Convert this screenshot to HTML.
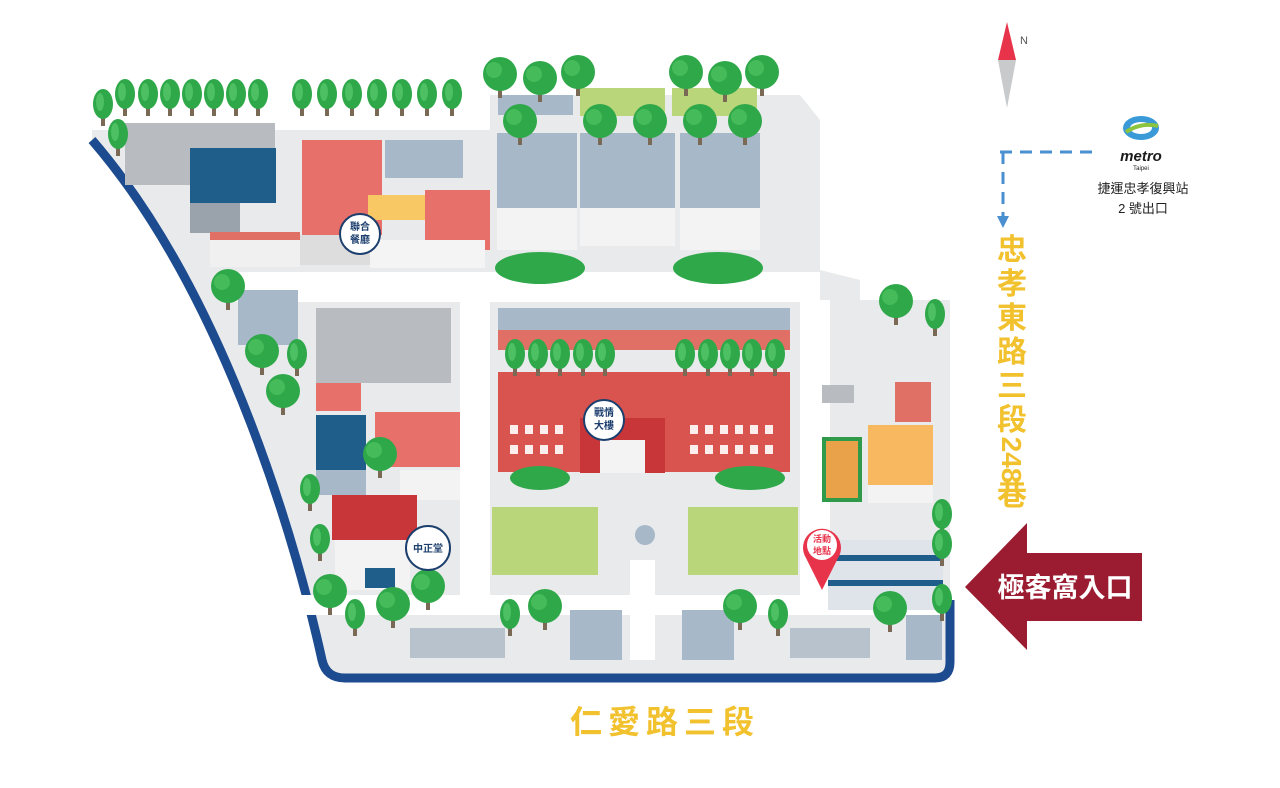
<!DOCTYPE html>
<html><head><meta charset="utf-8"><style>
html,body{margin:0;padding:0;background:#fff;width:1280px;height:788px;overflow:hidden}
svg{display:block}
text{font-family:"Liberation Sans","Noto Sans CJK TC",sans-serif}
</style></head><body>
<svg width="1280" height="788" viewBox="0 0 1280 788" xmlns="http://www.w3.org/2000/svg">
<defs>
<g id="tree"><rect x="-2" y="2" width="4" height="14" fill="#7a6a55"/><ellipse cx="0" cy="-6" rx="10" ry="15" fill="#2fa84a"/><ellipse cx="-3" cy="-8" rx="4" ry="9" fill="#4cc062"/></g>
<g id="btree"><rect x="-2" y="6" width="4" height="14" fill="#7a6a55"/><circle cx="0" cy="-4" r="17" fill="#2fa84a"/><circle cx="-6" cy="-8" r="8" fill="#46bb5a"/></g>
</defs>

<path d="M92,130 L490,130 L490,95 L800,95 L820,120 L820,270 L860,280 L860,300 L950,300 L950,675 L330,675 C300,560 230,300 92,140 Z" fill="#e9eaeb"/>
<path d="M92,140 C230,300 300,560 322,660 Q326,678 345,678 L935,678 Q950,678 950,662 L950,600" fill="none" stroke="#1d4b8f" stroke-width="9"/>
<rect x="230" y="272" width="590" height="30" fill="#fff"/>
<rect x="460" y="300" width="30" height="300" fill="#fff"/>
<rect x="800" y="300" width="30" height="300" fill="#fff"/>
<rect x="300" y="595" width="640" height="20" fill="#fff"/>
<rect x="630" y="560" width="25" height="100" fill="#fff"/>

<rect x="125" y="123" width="150" height="62" fill="#b8bcc0"/>
<rect x="190" y="148" width="86" height="55" fill="#1f5d8a"/>
<rect x="190" y="203" width="50" height="30" fill="#9aa3ab"/>
<rect x="210" y="232" width="90" height="35" fill="#f0f0f0"/><rect x="210" y="232" width="90" height="8" fill="#e07065"/>
<rect x="302" y="140" width="80" height="95" fill="#e8706a"/>
<rect x="385" y="140" width="78" height="38" fill="#a7b8c8"/>
<rect x="368" y="195" width="60" height="25" fill="#f8c864"/>
<rect x="425" y="190" width="65" height="60" fill="#e8706a"/>
<rect x="370" y="240" width="115" height="28" fill="#f4f4f4"/>
<rect x="300" y="235" width="70" height="30" fill="#ddd"/>
<rect x="498" y="95" width="75" height="20" fill="#a7b8c8"/>
<rect x="580" y="88" width="85" height="28" fill="#b9d77a"/>
<rect x="672" y="88" width="85" height="28" fill="#b9d77a"/>
<rect x="497" y="133" width="80" height="75" fill="#a7b8c8"/>
<rect x="580" y="133" width="95" height="75" fill="#a7b8c8"/>
<rect x="680" y="133" width="80" height="75" fill="#a7b8c8"/>
<rect x="497" y="208" width="80" height="42" fill="#f3f3f3"/>
<rect x="580" y="208" width="95" height="38" fill="#f3f3f3"/>
<rect x="680" y="208" width="80" height="42" fill="#f3f3f3"/>
<ellipse cx="540" cy="268" rx="45" ry="16" fill="#2fa84a"/>
<ellipse cx="718" cy="268" rx="45" ry="16" fill="#2fa84a"/>

<rect x="238" y="290" width="60" height="55" fill="#a7b8c8"/>
<rect x="316" y="308" width="135" height="75" fill="#b8bcc0"/>
<rect x="316" y="383" width="45" height="28" fill="#e8706a"/>
<rect x="316" y="415" width="50" height="55" fill="#1f5d8a"/>
<rect x="316" y="470" width="50" height="25" fill="#a7b8c8"/>
<rect x="375" y="412" width="85" height="55" fill="#e8706a"/>
<rect x="400" y="470" width="60" height="30" fill="#f3f3f3"/>
<rect x="332" y="495" width="85" height="45" fill="#c9363a"/>
<rect x="335" y="540" width="75" height="50" fill="#f3f3f3"/>
<rect x="365" y="568" width="30" height="20" fill="#1f5d8a"/>

<rect x="498" y="308" width="292" height="22" fill="#a7b8c8"/>
<rect x="498" y="330" width="292" height="20" fill="#e07065"/>
<rect x="498" y="372" width="292" height="100" fill="#d9534f"/>
<rect x="580" y="418" width="85" height="55" fill="#c9363a"/>
<rect x="600" y="440" width="45" height="33" fill="#f3f3f3"/>
<g fill="#fff" opacity="0.9">
<rect x="510" y="425" width="8" height="9"/><rect x="525" y="425" width="8" height="9"/><rect x="540" y="425" width="8" height="9"/><rect x="555" y="425" width="8" height="9"/>
<rect x="510" y="445" width="8" height="9"/><rect x="525" y="445" width="8" height="9"/><rect x="540" y="445" width="8" height="9"/><rect x="555" y="445" width="8" height="9"/>
<rect x="690" y="425" width="8" height="9"/><rect x="705" y="425" width="8" height="9"/><rect x="720" y="425" width="8" height="9"/><rect x="735" y="425" width="8" height="9"/><rect x="750" y="425" width="8" height="9"/><rect x="765" y="425" width="8" height="9"/>
<rect x="690" y="445" width="8" height="9"/><rect x="705" y="445" width="8" height="9"/><rect x="720" y="445" width="8" height="9"/><rect x="735" y="445" width="8" height="9"/><rect x="750" y="445" width="8" height="9"/><rect x="765" y="445" width="8" height="9"/>
</g>
<ellipse cx="540" cy="478" rx="30" ry="12" fill="#2fa84a"/>
<ellipse cx="750" cy="478" rx="35" ry="12" fill="#2fa84a"/>

<rect x="492" y="507" width="106" height="68" fill="#b9d77a"/>
<rect x="688" y="507" width="110" height="68" fill="#b9d77a"/>
<circle cx="645" cy="535" r="10" fill="#a7b8c8"/>

<rect x="822" y="385" width="32" height="18" fill="#b8bcc0"/>
<rect x="895" y="382" width="36" height="40" fill="#e07065"/>
<rect x="868" y="425" width="65" height="60" fill="#f8b860"/>
<rect x="868" y="485" width="65" height="18" fill="#f3f3f3"/>
<rect x="822" y="437" width="40" height="65" fill="#2f9a4a"/>
<rect x="826" y="441" width="32" height="57" fill="#e9a14a"/>
<rect x="828" y="540" width="115" height="70" fill="#dfe4ea"/>
<rect x="828" y="555" width="115" height="6" fill="#1f5d8a"/>
<rect x="828" y="580" width="115" height="6" fill="#1f5d8a"/>
<rect x="410" y="628" width="95" height="30" fill="#b8c2cc"/>
<rect x="570" y="610" width="52" height="50" fill="#a7b8c8"/>
<rect x="682" y="610" width="52" height="50" fill="#a7b8c8"/>
<rect x="790" y="628" width="80" height="30" fill="#b8c2cc"/>
<rect x="906" y="615" width="36" height="45" fill="#a7b8c8"/>

<g>
<use href="#tree" x="103" y="110"/><use href="#tree" x="125" y="100"/><use href="#tree" x="148" y="100"/><use href="#tree" x="170" y="100"/><use href="#tree" x="192" y="100"/><use href="#tree" x="214" y="100"/><use href="#tree" x="236" y="100"/><use href="#tree" x="258" y="100"/><use href="#tree" x="118" y="140"/>
<use href="#tree" x="302" y="100"/><use href="#tree" x="327" y="100"/><use href="#tree" x="352" y="100"/><use href="#tree" x="377" y="100"/><use href="#tree" x="402" y="100"/><use href="#tree" x="427" y="100"/><use href="#tree" x="452" y="100"/>
<use href="#btree" x="500" y="78"/><use href="#btree" x="540" y="82"/><use href="#btree" x="578" y="76"/><use href="#btree" x="686" y="76"/><use href="#btree" x="725" y="82"/><use href="#btree" x="762" y="76"/>
<use href="#btree" x="520" y="125"/><use href="#btree" x="600" y="125"/><use href="#btree" x="650" y="125"/><use href="#btree" x="700" y="125"/><use href="#btree" x="745" y="125"/>
<use href="#btree" x="228" y="290"/><use href="#btree" x="262" y="355"/><use href="#tree" x="297" y="360"/><use href="#btree" x="283" y="395"/>
<use href="#tree" x="515" y="360"/><use href="#tree" x="538" y="360"/><use href="#tree" x="560" y="360"/><use href="#tree" x="583" y="360"/><use href="#tree" x="605" y="360"/>
<use href="#tree" x="685" y="360"/><use href="#tree" x="708" y="360"/><use href="#tree" x="730" y="360"/><use href="#tree" x="752" y="360"/><use href="#tree" x="775" y="360"/>
<use href="#btree" x="896" y="305"/><use href="#tree" x="935" y="320"/>
<use href="#btree" x="380" y="458"/><use href="#tree" x="310" y="495"/><use href="#tree" x="320" y="545"/>
<use href="#btree" x="330" y="595"/><use href="#tree" x="355" y="620"/><use href="#btree" x="393" y="608"/><use href="#btree" x="428" y="590"/>
<use href="#tree" x="510" y="620"/><use href="#btree" x="545" y="610"/><use href="#btree" x="740" y="610"/><use href="#tree" x="778" y="620"/><use href="#btree" x="890" y="612"/>
<use href="#tree" x="942" y="520"/><use href="#tree" x="942" y="550"/><use href="#tree" x="942" y="605"/>
</g>

<g font-size="10" fill="#1d3f6e" text-anchor="middle" font-weight="bold">
<circle cx="360" cy="234" r="20" fill="#fff" stroke="#1d3f6e" stroke-width="2"/>
<text x="360" y="230">聯合</text><text x="360" y="243">餐廳</text>
<circle cx="604" cy="420" r="20" fill="#fff" stroke="#1d3f6e" stroke-width="2"/>
<text x="604" y="416">戰情</text><text x="604" y="429">大樓</text>
<circle cx="428" cy="548" r="22" fill="#fff" stroke="#1d3f6e" stroke-width="2"/>
<text x="428" y="552">中正堂</text>
</g>
<path d="M822,590 L806,558 A19,19 0 1 1 838,558 Z" fill="#e8344a"/>
<circle cx="822" cy="545" r="15" fill="#fff"/>
<text x="822" y="542" font-size="9" fill="#e8344a" text-anchor="middle" font-weight="bold">活動</text>
<text x="822" y="554" font-size="9" fill="#e8344a" text-anchor="middle" font-weight="bold">地點</text>

<polygon points="1007,22 998,60 1016,60" fill="#e8344a"/>
<polygon points="998,60 1016,60 1007,108" fill="#c8cacc"/>
<text x="1020" y="44" font-size="11" fill="#555">N</text>

<path d="M1000,152 L1100,152" stroke="#4a8fd0" stroke-width="3" stroke-dasharray="12,8" fill="none"/>
<path d="M1003,152 L1003,218" stroke="#4a8fd0" stroke-width="3" stroke-dasharray="12,8" fill="none"/>
<polygon points="997,216 1009,216 1003,228" fill="#4a8fd0"/>
<ellipse cx="1141" cy="128" rx="18" ry="12" fill="#3a9ad8"/>
<ellipse cx="1141" cy="128" rx="11" ry="6" fill="#fff"/>
<path d="M1126,132 Q1141,122 1158,126" stroke="#8bc43f" stroke-width="4" fill="none"/>
<text x="1141" y="161" font-size="15" font-weight="bold" font-style="italic" fill="#1a1a1a" text-anchor="middle">metro</text>
<text x="1141" y="170" font-size="6" fill="#1a1a1a" text-anchor="middle">Taipei</text>
<text x="1143" y="193" font-size="13" fill="#222" text-anchor="middle">捷運忠孝復興站</text>
<text x="1143" y="213" font-size="13" fill="#222" text-anchor="middle">2 號出口</text>

<g font-size="30" fill="#f2c12e" text-anchor="middle" font-weight="bold">
<text x="1012" y="260">忠</text><text x="1012" y="294">孝</text><text x="1012" y="328">東</text><text x="1012" y="362">路</text><text x="1012" y="396">三</text><text x="1012" y="430">段</text>
<text x="1012" y="505">巷</text>
</g>
<text x="0" y="0" font-size="28" fill="#f2c12e" text-anchor="middle" font-weight="bold" transform="translate(1002,460) rotate(90)">248</text>
<text x="665" y="733" font-size="32" fill="#f2c12e" text-anchor="middle" letter-spacing="6" font-weight="bold">仁愛路三段</text>

<polygon points="965,587 1027,523 1027,553 1142,553 1142,621 1027,621 1027,650" fill="#9b1b30"/>
<text x="1065" y="597" font-size="27" fill="#fff" text-anchor="middle" font-weight="bold">極客窩入口</text>
</svg>
</body></html>
